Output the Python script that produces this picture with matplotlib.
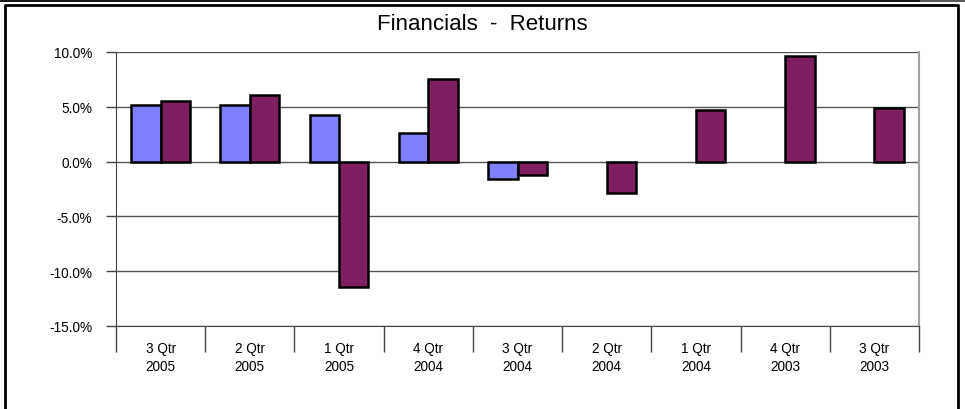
import numpy as np
import matplotlib.pyplot as plt
from matplotlib.patches import Rectangle
from matplotlib.ticker import FuncFormatter, FixedLocator

plt.rcParams['font.family'] = ['Liberation Sans', 'DejaVu Sans']

# Quarterly returns (%), newest quarter first
quarters = ['3 Qtr\n2005', '2 Qtr\n2005', '1 Qtr\n2005', '4 Qtr\n2004', '3 Qtr\n2004',
            '2 Qtr\n2004', '1 Qtr\n2004', '4 Qtr\n2003', '3 Qtr\n2003']
series_a = [5.2, 5.2, 4.27, 2.64, -1.55, np.nan, np.nan, np.nan, np.nan]
series_b = [5.57, 6.1, -11.4, 7.57, -1.18, -2.85, 4.7, 9.6, 4.85]

fig = plt.figure(figsize=(9.65, 4.1), dpi=100)

# outer frame and dark strip at the top
fig.patches.append(Rectangle((0, 1 - 3 / 410), 920 / 965, 3 / 410, transform=fig.transFigure,
                             facecolor='#1a1a1a', edgecolor='none'))
fig.patches.append(Rectangle((920 / 965, 1 - 3 / 410), 45 / 965, 3 / 410, transform=fig.transFigure,
                             facecolor='#5a5a5a', edgecolor='none'))
fig.lines.append(plt.Line2D([5 / 965, 5 / 965, 958 / 965, 958 / 965],
                            [0, 1 - 6 / 410, 1 - 6 / 410, 0],
                            transform=fig.transFigure, color='black', lw=2))

ax = fig.add_axes([116 / 965, 83 / 410, 803 / 965, 274 / 410])

x = np.arange(len(quarters))
w = 0.33
ax.bar(x - w / 2, series_a, w, color='#8080FF', edgecolor='black', linewidth=1.8, zorder=3)
ax.bar(x + w / 2, series_b, w, color='#7F1F5F', edgecolor='black', linewidth=1.8, zorder=3)

ax.set_xlim(-0.5, len(quarters) - 0.5)
ax.set_ylim(-15, 10)
ax.set_yticks(np.arange(-15, 10.1, 5))
ax.yaxis.set_major_formatter(FuncFormatter(lambda v, p: f'{v:.1f}%'))
ax.grid(axis='y', color='#555555', linewidth=1, zorder=0)

ax.set_xticks(x)
ax.set_xticklabels(quarters, fontsize=9.8, linespacing=1.35)
ax.xaxis.set_minor_locator(FixedLocator(np.arange(-0.5, len(quarters), 1)))
ax.tick_params(axis='x', which='major', length=0, pad=11)
ax.tick_params(axis='x', which='minor', length=19, width=1, color='#444444', direction='out')
ax.tick_params(axis='y', length=7, width=1, color='#444444', labelsize=9.8, pad=10)

for s in ['left', 'bottom']:
    ax.spines[s].set_color('#444444')
ax.spines['top'].set_visible(False)
ax.spines['right'].set_color('#a0a0a0')
ax.spines['right'].set_linewidth(1.5)

fig.text(0.5, 1 - 24 / 410, 'Financials  -  Returns', ha='center', va='center', fontsize=16)

fig.savefig('out.png', dpi=100)
